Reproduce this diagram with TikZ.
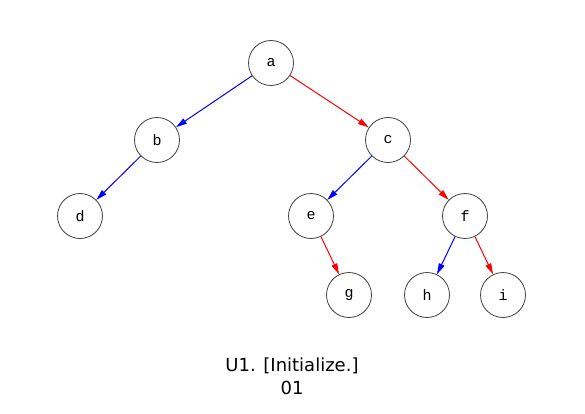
\documentclass[tikz,border=0pt]{standalone}
\usepackage{fontspec}
\setmainfont{DejaVu Sans}
\newfontfamily\keyfont{Liberation Mono}
\usetikzlibrary{arrows.meta}
\begin{document}
\begin{tikzpicture}[x=1pt,y=-1pt,>={Triangle[length=11pt,width=6pt]}, line width=1pt, line join=round]
\tikzset{vert/.style={circle,draw=black!75,line width=0.8pt,minimum size=45pt,inner sep=0pt,font=\keyfont\fontsize{15}{17}\selectfont}}
\useasboundingbox (0,0) rectangle (585,414);
\node[vert] (a) at (271,63) {a};
\node[vert] (b) at (157,140) {b};
\node[vert] (c) at (388,140) {c};
\node[vert] (d) at (80,216) {d};
\node[vert] (e) at (311,216) {e};
\node[vert] (f) at (465,216) {f};
\node[vert] (g) at (349,295) {g};
\node[vert] (h) at (427,295) {h};
\node[vert] (i) at (503,295) {i};
\foreach \u/\v/\c in {a/b/blue, a/c/red, b/d/blue, c/e/blue, c/f/red, e/g/red, f/h/blue, f/i/red}
  \draw[->,\c] (\u) -- (\v);
\node[font=\fontsize{18}{23}\selectfont,align=center] (cap) at (292,376) {U1. [Initialize.]\\01};
\end{tikzpicture}
\end{document}
